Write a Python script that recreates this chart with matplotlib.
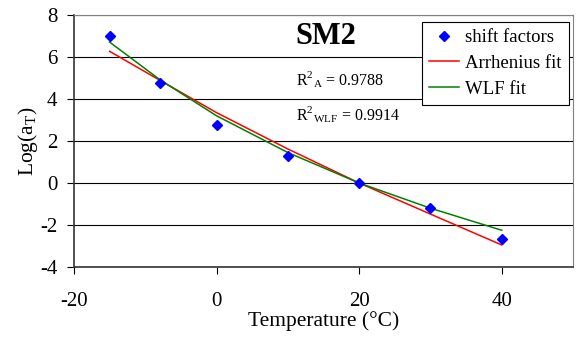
import numpy as np
import matplotlib
matplotlib.use('Agg')
import matplotlib.pyplot as plt

plt.rcParams['font.family'] = ['Liberation Serif', 'DejaVu Serif']
plt.rcParams['mathtext.fontset'] = 'custom'
plt.rcParams['mathtext.rm'] = 'Liberation Serif'
plt.rcParams['axes.unicode_minus'] = False

# measured shift factors
temp = [-15, -8, 0, 10, 20, 30, 40]
log_at = [7.0, 4.77, 2.78, 1.28, 0.0, -1.21, -2.67]

# fitted curves evaluated at the same temperatures
arrhenius = [6.27, 4.90, 3.35, 1.62, 0.0, -1.48, -2.95]
wlf = [6.71, 4.93, 3.20, 1.45, 0.0, -1.20, -2.25]

r2_arr = 0.9788
r2_wlf = 0.9914

fig = plt.figure(figsize=(5.77, 3.39), dpi=100)
ax = fig.add_axes([74/577, 1 - 267/339, (573-74)/577, (267-15)/339])

ax.plot(temp, arrhenius, color='#ff0000', lw=1.1, label='Arrhenius fit', zorder=3)
ax.plot(temp, wlf, color='#008000', lw=1.1, label='WLF fit', zorder=3)
ax.plot(temp, log_at, 'D', color='#0000ff', ms=5.5, ls='none', label='shift factors', zorder=4)

ax.set_xlim(-20, 50)
ax.set_ylim(-4, 8)
ax.set_xticks([-20, 0, 20, 40])
ax.set_yticks(np.arange(-4, 9, 2))
ax.yaxis.grid(True, color='black', lw=0.8)
ax.set_axisbelow(True)

for s in ['top', 'right']:
    ax.spines[s].set_color('#808080')
for s in ['left', 'bottom']:
    ax.spines[s].set_linewidth(1.2)
    ax.spines[s].set_color('#333333')

ax.tick_params(axis='x', direction='out', length=5, labelsize=15, pad=13)
ax.tick_params(axis='y', direction='out', length=5, labelsize=15, pad=7)

ax.set_xlabel('Temperature (°C)', fontsize=15.5, labelpad=0)
ax.set_ylabel('Log(a$_\\mathrm{T}$)', fontsize=15.5, labelpad=0)

ax.text(11.1, 7.0, 'SM2', fontsize=22, fontweight='bold', va='center')
ax.text(11.1, 4.67, f'R$^2$$_\\mathrm{{A}}$ = {r2_arr:.4f}', fontsize=11.5, va='baseline')
ax.text(11.1, 2.97, f'R$^2$$_\\mathrm{{WLF}}$ = {r2_wlf:.4f}', fontsize=11.5, va='baseline')

handles, labels = ax.get_legend_handles_labels()
order = [2, 0, 1]
leg = ax.legend([handles[i] for i in order], [labels[i] for i in order],
                loc='upper right', bbox_to_anchor=(0.992, 0.973), fontsize=13.5,
                frameon=True, fancybox=False, edgecolor='black', framealpha=1,
                handlelength=1.6, handletextpad=0.3, borderpad=0.4, labelspacing=0.45,
                borderaxespad=0)
leg.get_frame().set_linewidth(0.8)

fig.savefig('out.png', dpi=100)
